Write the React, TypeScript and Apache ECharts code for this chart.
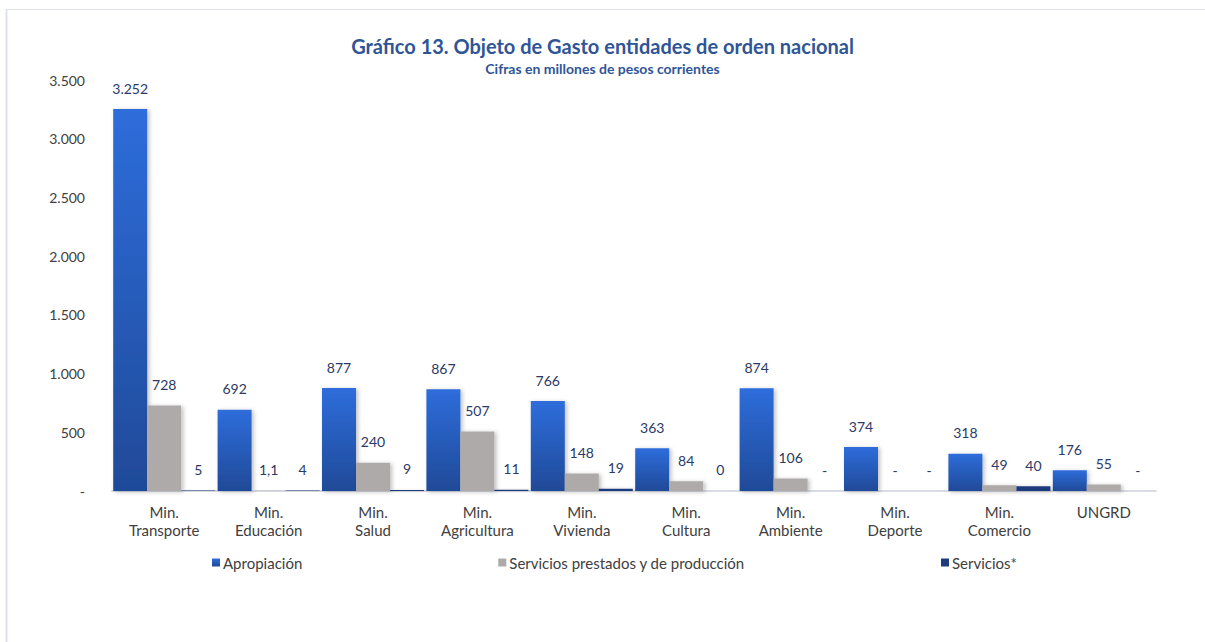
import React, { useEffect, useRef } from "react";
import * as echarts from "echarts";

const categories = [
  "Min.\nTransporte",
  "Min.\nEducación",
  "Min.\nSalud",
  "Min.\nAgricultura",
  "Min.\nVivienda",
  "Min.\nCultura",
  "Min.\nAmbiente",
  "Min.\nDeporte",
  "Min.\nComercio",
  "UNGRD",
];
const apropiacion = [3252, 692, 877, 867, 766, 363, 874, 374, 318, 176];
const serviciosPrestados = [728, 1.1, 240, 507, 148, 84, 106, 0, 49, 55];
const servicios = [5, 4, 9, 11, 19, 0.3, 0, 0, 40, 0];
const seriesNames = ["Apropiación", "Servicios prestados y de producción", "Servicios*"];

const FONT = "Lato, 'Noto Sans', sans-serif";

function thousands(n: number): string {
  return String(Math.round(n)).replace(/\B(?=(\d{3})+(?!\d))/g, ".");
}
function fmtLabel(v: number): string {
  if (v === 0) return "-";
  if (v < 1) return String(Math.round(v));
  if (!Number.isInteger(v)) return String(v).replace(".", ",");
  return thousands(v);
}

export default function App() {
  const ref = useRef<HTMLDivElement>(null);
  useEffect(() => {
    if (!ref.current) return;
    const chart = echarts.init(ref.current, undefined, { renderer: "svg" });
    const labelStyle = {
      show: true,
      position: "top" as const,
      distance: 14,
      color: "#2b3a67",
      fontSize: 14,
      fontFamily: FONT,
      formatter: (p: any) => fmtLabel(p.value),
    };
    const shadow = {
      shadowColor: "rgba(0,0,0,0.25)",
      shadowBlur: 4,
      shadowOffsetX: 2,
      shadowOffsetY: 1,
    };
    chart.setOption({
      animation: false,
      backgroundColor: "#ffffff",
      title: {
        text: "Gráfico 13. Objeto de Gasto entidades de orden nacional",
        subtext: "Cifras en millones de pesos corrientes",
        left: "center",
        top: 31,
        itemGap: 5,
        textStyle: { color: "#2f5597", fontSize: 20, fontWeight: "bold", fontFamily: FONT },
        subtextStyle: { color: "#2f5597", fontSize: 14, fontWeight: "bold", fontFamily: FONT },
      },
      legend: {
        left: 207,
        top: 550,
        itemGap: 196,
        itemWidth: 8,
        itemHeight: 8,
        icon: "rect",
        textStyle: { color: "#404040", fontSize: 15, fontFamily: FONT, padding: [0, 0, 0, -2] },
        data: seriesNames,
      },
      grid: { left: 112, right: 49, top: 80, bottom: 151, containLabel: false },
      xAxis: {
        type: "category",
        data: categories,
        axisTick: { show: false },
        axisLine: { lineStyle: { color: "#d9dde3", width: 2 } },
        axisLabel: {
          interval: 0,
          color: "#404040",
          fontSize: 15,
          fontFamily: FONT,
          lineHeight: 18,
          margin: 12,
        },
      },
      yAxis: {
        type: "value",
        min: 0,
        max: 3500,
        interval: 500,
        splitLine: { show: false },
        axisLine: { show: false },
        axisTick: { show: false },
        axisLabel: {
          color: "#404040",
          fontSize: 14,
          fontFamily: FONT,
          margin: 27,
          formatter: (v: number) => (v === 0 ? "-" : thousands(v)),
        },
      },
      series: [
        {
          name: seriesNames[0],
          type: "bar",
          data: apropiacion,
          barWidth: 34,
          barGap: "0%",
          itemStyle: {
            color: new echarts.graphic.LinearGradient(0, 0, 0, 1, [
              { offset: 0, color: "#2e6ddb" },
              { offset: 1, color: "#1f4a98" },
            ]),
            ...shadow,
          },
          label: labelStyle,
        },
        {
          name: seriesNames[1],
          type: "bar",
          data: serviciosPrestados,
          barWidth: 34,
          barGap: "0%",
          itemStyle: { color: "#aeaaaa", ...shadow },
          label: labelStyle,
        },
        {
          name: seriesNames[2],
          type: "bar",
          data: servicios,
          barWidth: 34,
          barGap: "0%",
          itemStyle: { color: "#1f3b7c", ...shadow },
          label: labelStyle,
        },
      ],
      graphic: [
        { type: "line", shape: { x1: 6.5, y1: 9, x2: 6.5, y2: 642 }, style: { stroke: "#dfe2e8", lineWidth: 2 } },
        { type: "line", shape: { x1: 6, y1: 9.5, x2: 1205, y2: 9.5 }, style: { stroke: "#dfe2e8", lineWidth: 1 } },
      ],
    });
    return () => chart.dispose();
  }, []);
  return (
    <div
      ref={ref}
      style={{ position: "fixed", left: 0, top: 0, width: 1205, height: 642 }}
    />
  );
}
